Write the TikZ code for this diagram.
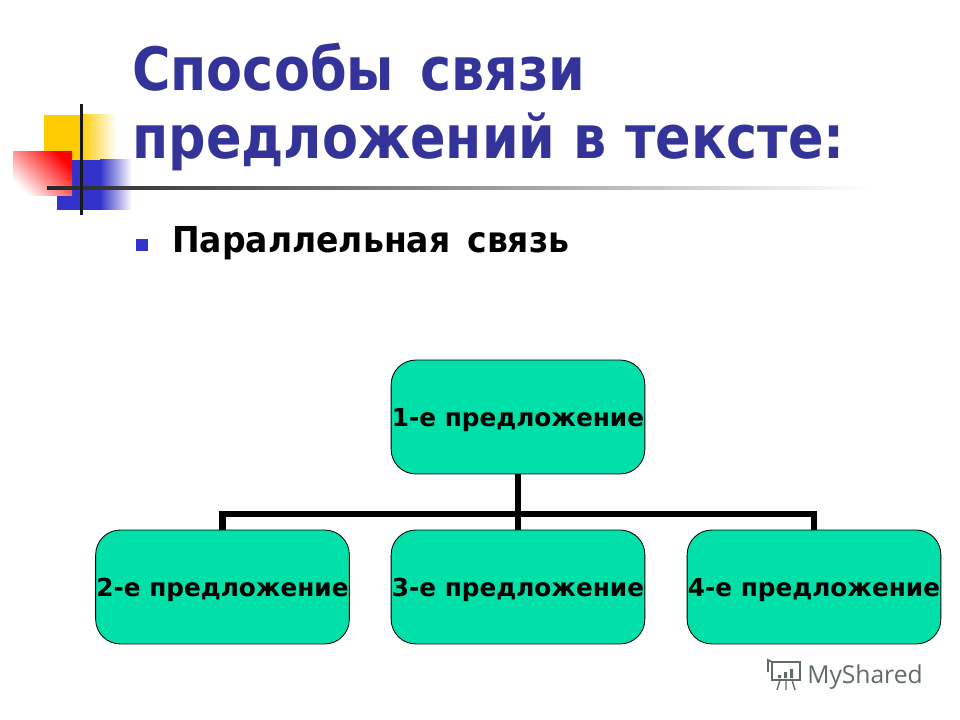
\documentclass[tikz,border=0pt]{standalone}
\usepackage{fontspec}
\setmainfont{DejaVu Sans}
\newfontfamily\titlefont{DejaVu Sans}[FakeStretch=0.877]
\newfontfamily\bulletfont{DejaVu Sans}[FakeStretch=0.925]
\newfontfamily\logofont{Open Sans}
\usetikzlibrary{calc}
\definecolor{titleblue}{HTML}{333399}
\definecolor{boxgreen}{HTML}{00E0A8}
\definecolor{logogrey}{HTML}{5F6B68}
\definecolor{decoyellow}{HTML}{FFCC00}
\definecolor{decoblue}{HTML}{3333CC}
\tikzset{
	sentence/.style={draw=black, line width=0.6pt, fill=boxgreen, rounded corners=17.5pt, minimum width=180.4pt, minimum height=81pt, inner sep=0pt, text height=15pt, text depth=0.8pt, font=\fontsize{17.6}{20}\selectfont\bfseries},
	heading/.style={anchor=base west, inner sep=0pt, text=titleblue, font=\titlefont\fontsize{42.5}{50}\selectfont\bfseries},
	conn/.style={line width=4.6pt, line join=miter},
}
\begin{document}
\begin{tikzpicture}[x=0.025cm, y=-0.025cm]
			%%%%% START %%%%%
			\useasboundingbox (0, 0) rectangle (960, 720);
			
			% corner decoration
			\fill[decoyellow] (44, 115) rectangle (81, 160);
			\shade[left color=decoyellow, right color=white] (81, 115) rectangle (116, 160);
			\fill[decoblue] (57, 160) rectangle (100, 210);
			\shade[left color=decoblue, right color=white] (100, 160) rectangle (132, 210);
			\shade[top color=red, bottom color=white, shading angle=-45] (13, 152) rectangle (72, 196);
			\shade[left color=black!85, right color=white] (47, 187) rectangle (870, 190);
			\fill[color=black!90] (80, 104) rectangle (82.5, 215);
			
			% title
			\node[heading] (line1) at (132, 91) {Способы\hspace{5.7pt} связи};
			\node[heading] (line2) at (132, 159) {предложений в тексте:};
			
			% bullet
			\fill[color=decoblue] (136, 239) rectangle (148, 251);
			\node[anchor=base west, inner sep=0pt, font=\bulletfont\fontsize{25.4}{30}\selectfont\bfseries] (bullet) at (172, 253) {Параллельная\hspace{4pt} связь};
			
			% boxes
			\node[sentence] (first) at (518, 417) {1-е предложение};
			\node[sentence] (second) at (222.5, 587) {2-е предложение};
			\node[sentence] (third) at (518, 587) {3-е предложение};
			\node[sentence] (fourth) at (814, 587) {4-е предложение};
			
			% connectors
			\coordinate (bus) at (518, 514);
			\draw[conn] (first.south) -- (third.north);
			\draw[conn] (second.north) |- (bus) -| (fourth.north);
			
			% logo
			\node[anchor=base west, inner sep=0pt, text=logogrey, font=\logofont\fontsize{17.5}{21}\selectfont] (logo) at (807, 683) {MyShared};
			\draw[logogrey, line width=1.2pt] (772, 662) rectangle (800, 680);
			\draw[logogrey, line width=1.2pt] (772, 662) -- (768, 660) -- (768, 672);
			\draw[logogrey, line width=1pt] (780, 680) -- (777, 690) (786, 680) -- (786, 690) (792, 680) -- (795, 690);
			\fill[logogrey] (778, 675) rectangle (781, 678) (784, 672) rectangle (787, 678) (790, 669) rectangle (793, 678);
			
			%%%%% END %%%%%
		\end{tikzpicture}
\end{document}
